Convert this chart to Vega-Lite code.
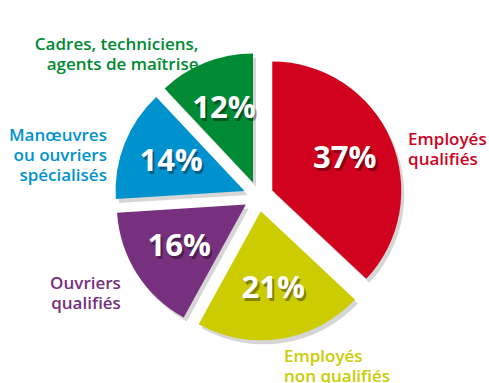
{
  "$schema": "https://vega.github.io/schema/vega-lite/v6.json",
  "width": 489,
  "height": 383,
  "autosize": {"type": "fit", "contains": "padding"},
  "padding": {"left": 27, "top": 10, "right": 5, "bottom": 0},
  "background": "white",
  "config": {"view": {"stroke": null}},
  "data": {
    "values": [
      {"categorie": "Employés\nqualifiés", "part": 0.37},
      {"categorie": "Employés\nnon qualifiés", "part": 0.21},
      {"categorie": "Ouvriers\nqualifiés", "part": 0.16},
      {"categorie": "Manœuvres\nou ouvriers\nspécialisés", "part": 0.14},
      {"categorie": "Cadres, techniciens,\nagents de maîtrise", "part": 0.12}
    ]
  },
  "transform": [{"stack": "part", "groupby": [], "as": ["start", "end"]}],
  "encoding": {
    "color": {
      "field": "categorie",
      "type": "nominal",
      "legend": null,
      "scale": {
        "domain": ["Employés\nqualifiés", "Employés\nnon qualifiés", "Ouvriers\nqualifiés", "Manœuvres\nou ouvriers\nspécialisés", "Cadres, techniciens,\nagents de maîtrise"],
        "range": ["#D0021E", "#CCCC00", "#76307E", "#0092CF", "#008A33"]
      }
    }
  },
  "layer": [
    {
      "mark": {
        "type": "arc",
        "radius": 129,
        "opacity": 0.16,
        "xOffset": {"expr": "15*sin(PI*(datum.start+datum.end)) + 3"},
        "yOffset": {"expr": "-15*cos(PI*(datum.start+datum.end)) + 4"}
      },
      "encoding": {
        "theta": {"field": "start", "type": "quantitative", "scale": {"domain": [0, 1]}},
        "theta2": {"field": "end"},
        "color": {"value": "#000000"}
      }
    },
    {
      "mark": {
        "type": "arc",
        "radius": 129,
        "xOffset": {"expr": "15*sin(PI*(datum.start+datum.end))"},
        "yOffset": {"expr": "-15*cos(PI*(datum.start+datum.end))"}
      },
      "encoding": {
        "theta": {"field": "start", "type": "quantitative", "scale": {"domain": [0, 1]}},
        "theta2": {"field": "end"}
      }
    },
    {
      "mark": {
        "type": "text",
        "radius": 94,
        "theta": {"expr": "PI*(datum.start+datum.end)"},
        "dx": 2,
        "dy": 3,
        "font": "Open Sans",
        "fontWeight": "bold",
        "fontSize": 31,
        "opacity": 0.35,
        "baseline": "middle",
        "align": "center"
      },
      "encoding": {
        "text": {"field": "part", "type": "quantitative", "format": ".0%"},
        "color": {"value": "#000000"}
      }
    },
    {
      "mark": {
        "type": "text",
        "radius": 94,
        "theta": {"expr": "PI*(datum.start+datum.end)"},
        "font": "Open Sans",
        "fontWeight": "bold",
        "fontSize": 31,
        "baseline": "middle",
        "align": "center"
      },
      "encoding": {
        "text": {"field": "part", "type": "quantitative", "format": ".0%"},
        "color": {"value": "#FFFFFF"}
      }
    },
    {
      "mark": {
        "type": "text",
        "radius": 163,
        "theta": {"expr": "PI*(datum.start+datum.end)"},
        "lineBreak": "\n",
        "lineHeight": 20,
        "font": "Open Sans",
        "fontWeight": 600,
        "fontSize": 17,
        "baseline": {"expr": "sin(PI*(datum.start+datum.end)) > 0.5 ? 'top' : 'middle'"},
        "align": {"expr": "sin(PI*(datum.start+datum.end)) > -0.05 ? 'left' : 'right'"}
      },
      "encoding": {
        "text": {"field": "categorie", "type": "nominal"}
      }
    }
  ]
}
